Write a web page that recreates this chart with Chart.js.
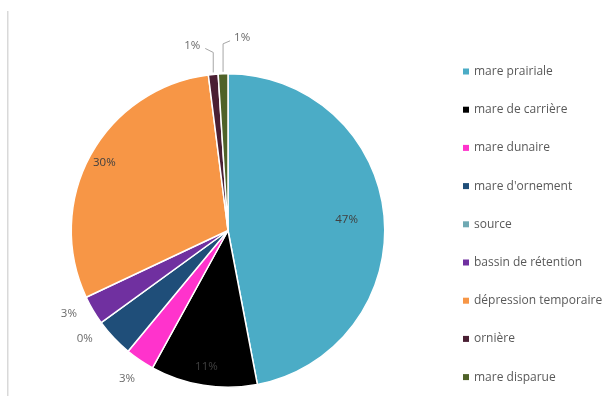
<!DOCTYPE html>
<html>
<head>
<meta charset="utf-8">
<script src="https://cdn.jsdelivr.net/npm/chart.js@4/dist/chart.umd.min.js"></script>
<style>
  html, body { margin: 0; padding: 0; background: #fff; overflow: hidden; }
  #wrap { position: relative; width: 615px; height: 396px; }
</style>
</head>
<body>
<div id="wrap"><canvas id="c" width="615" height="396"></canvas></div>
<script>
// Types de points d'eau et part de chacun (%)
const categories = ['mare prairiale', 'mare de carrière', 'mare dunaire', "mare d'ornement", 'source',
                    'bassin de rétention', 'dépression temporaire', 'ornière', 'mare disparue'];
const shares = [47, 11, 3, 4, 0, 3, 30, 1, 1];

// Presentation
const sliceColors = ['#4BACC6', '#000000', '#FF33CC', '#1F4E79', '#6FA9B3',
                     '#7030A0', '#F79646', '#4A1F33', '#4F6228'];
// how each slice's percentage label is placed
const labelModes = ['in', 'in', 'out', 'none', 'out', 'out', 'in', 'calloutLeft', 'calloutRight'];
const insideFactor = [0.76, 0.88, 0, 0, 0, 0, 0.9, 0, 0];
const outsideShift = [0, 0, 0, 0, -0.02, 0.05, 0, 0, 0]; // radians added to the slice mid-angle

const FONT = '"Open Sans", "Liberation Sans", sans-serif';

const framePlugin = {
  id: 'frame',
  beforeDraw(chart) {
    const ctx = chart.ctx;
    ctx.save();
    ctx.fillStyle = '#fff';
    ctx.fillRect(0, 0, chart.width, chart.height);
    ctx.fillStyle = '#d9d9d9';
    ctx.fillRect(7, 11, 1.5, chart.height - 11);
    ctx.restore();
  }
};

const sliceLabels = {
  id: 'sliceLabels',
  afterDatasetsDraw(chart) {
    const ctx = chart.ctx;
    const meta = chart.getDatasetMeta(0);
    ctx.save();
    ctx.font = '11.5px ' + FONT;
    ctx.textBaseline = 'middle';
    meta.data.forEach((arc, i) => {
      const mode = labelModes[i];
      if (mode === 'none') return;
      const p = arc.getProps(['x', 'y', 'startAngle', 'endAngle', 'outerRadius'], true);
      const mid = (p.startAngle + p.endAngle) / 2;
      const r = p.outerRadius;
      const txt = shares[i] + '%';
      if (mode === 'in') {
        const d = r * insideFactor[i];
        ctx.fillStyle = '#404040';
        ctx.textAlign = 'center';
        ctx.fillText(txt, p.x + Math.cos(mid) * d, p.y + Math.sin(mid) * d);
      } else if (mode === 'out') {
        const d = r + 23;
        const a = mid + outsideShift[i];
        ctx.fillStyle = '#6b6b6b';
        ctx.textAlign = 'center';
        ctx.fillText(txt, p.x + Math.cos(a) * d, p.y + Math.sin(a) * d);
      } else {
        // leader line from the rim upward, then bent toward the text
        const ex = p.x + Math.cos(mid) * r;
        const ey = p.y + Math.sin(mid) * r;
        const left = mode === 'calloutLeft';
        const topY = left ? ey - 22 : ey - 30;
        const endX = left ? ex - 8 : ex + 7;
        const endY = left ? topY - 4 : topY - 3;
        ctx.strokeStyle = '#a6a6a6';
        ctx.lineWidth = 1;
        ctx.beginPath();
        ctx.moveTo(ex, ey - 2);
        ctx.lineTo(ex, topY);
        ctx.lineTo(endX, endY);
        ctx.stroke();
        ctx.fillStyle = '#6b6b6b';
        ctx.textAlign = left ? 'right' : 'left';
        ctx.fillText(txt, left ? endX - 5 : endX + 4, endY - 3);
      }
    });
    ctx.restore();
  }
};

const sideLegend = {
  id: 'sideLegend',
  afterDraw(chart) {
    const ctx = chart.ctx;
    ctx.save();
    ctx.font = '12px ' + FONT;
    ctx.textBaseline = 'middle';
    ctx.textAlign = 'left';
    chart.data.labels.forEach((lab, i) => {
      const y = 71.5 + i * 38.2;
      ctx.fillStyle = chart.data.datasets[0].backgroundColor[i];
      ctx.fillRect(463, y - 3, 6, 6);
      ctx.fillStyle = '#595959';
      ctx.fillText(lab, 474, y);
    });
    ctx.restore();
  }
};

new Chart(document.getElementById('c'), {
  type: 'pie',
  data: {
    labels: categories,
    datasets: [{
      data: shares,
      backgroundColor: sliceColors,
      borderColor: '#ffffff',
      borderWidth: 1.5
    }]
  },
  options: {
    responsive: false,
    animation: false,
    layout: { padding: { left: 70, top: 73, right: 229, bottom: 8 } },
    plugins: {
      legend: { display: false },
      tooltip: { enabled: false }
    }
  },
  plugins: [framePlugin, sliceLabels, sideLegend]
});
</script>
</body>
</html>
